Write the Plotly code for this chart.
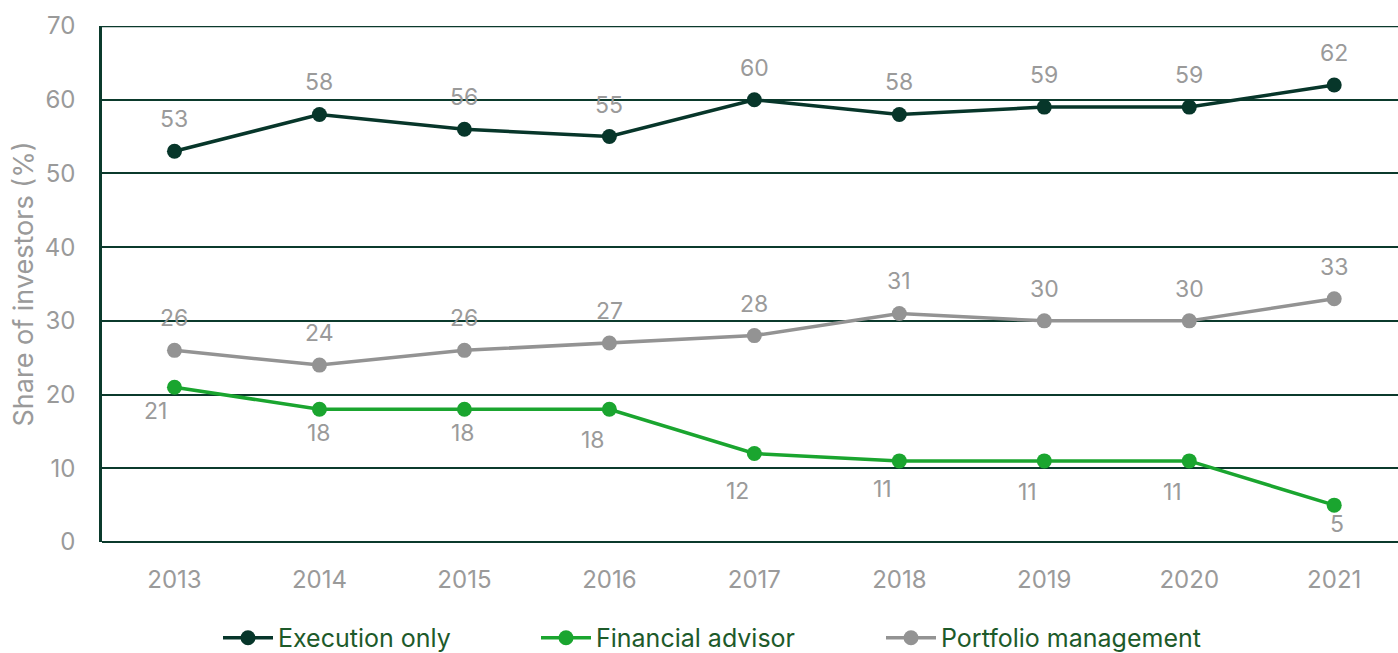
import plotly.graph_objects as go

years = [2013, 2014, 2015, 2016, 2017, 2018, 2019, 2020, 2021]
execution_only = [53, 58, 56, 55, 60, 58, 59, 59, 62]
financial_advisor = [21, 18, 18, 18, 12, 11, 11, 11, 5]
portfolio_management = [26, 24, 26, 27, 28, 31, 30, 30, 33]

# label offsets (pixels) for the financial advisor series, below the points
fin_dx = [-19, 0, -1, -16, -17, -17, -17, -17, 3]
fin_dy = [-24, -24, -24, -31, -37, -28, -31, -31, -19]

C_EXEC = "#07362a"
C_FIN = "#1aa52f"
C_PORT = "#939393"
GRID = "#0b3a2c"
TXT = "#9a9a9a"
FONT = "Inter, Roboto, sans-serif"

fig = go.Figure()

def add(name, vals, color, leg):
    fig.add_trace(go.Scatter(
        x=years, y=vals, name=name, mode="lines+markers",
        line=dict(color=color, width=3.5),
        marker=dict(color=color, size=15),
        cliponaxis=False, legend=leg,
    ))

add("Execution only", execution_only, C_EXEC, "legend")
add("Financial advisor", financial_advisor, C_FIN, "legend2")
add("Portfolio management", portfolio_management, C_PORT, "legend3")

for series in (execution_only, portfolio_management):
    for x, v in zip(years, series):
        fig.add_annotation(x=x, y=v, text=str(v), showarrow=False, yshift=32,
                           font=dict(size=23, color=TXT, family=FONT))
for x, v, dx, dy in zip(years, financial_advisor, fin_dx, fin_dy):
    fig.add_annotation(x=x, y=v, text=str(v), showarrow=False, xshift=dx, yshift=dy,
                       font=dict(size=23, color=TXT, family=FONT))

def leg(xpos):
    return dict(orientation="h", x=xpos, xanchor="left", y=-0.186, yanchor="middle",
                font=dict(size=25, color="#1d5a2a", family=FONT), itemwidth=50,
                bgcolor="rgba(0,0,0,0)")

fig.update_layout(
    width=1398, height=653,
    margin=dict(l=102, r=0, t=26, b=111, autoexpand=False),
    paper_bgcolor="white", plot_bgcolor="white",
    font=dict(family=FONT, color=TXT),
    showlegend=True,
    legend=leg((222 - 102 - 4) / 1296),
    legend2=leg((540 - 102 - 4) / 1296),
    legend3=leg((885 - 102 - 4) / 1296),
    xaxis=dict(range=[2012.5, 2021.44], showgrid=False, automargin=False, dtick=1, tick0=2013,
               showline=False, zeroline=False, ticks="", tickfont=dict(size=24, color=TXT),
               ticklabelstandoff=21),
    yaxis=dict(range=[0, 70], dtick=10, showgrid=True, gridcolor=GRID, gridwidth=1.5,
               zeroline=True, zerolinecolor=GRID, zerolinewidth=2, automargin=False,
               showline=True, linecolor=GRID, linewidth=2.5,
               tickfont=dict(size=24, color=TXT), ticklabelstandoff=19,
               title=dict(text="Share of investors (%)", font=dict(size=27, color=TXT), standoff=4)),
)
fig.add_shape(type="line", xref="paper", yref="y", x0=0, x1=1, y0=70, y1=70,
              line=dict(color=GRID, width=2.5), layer="below")

fig.write_html("out.html", config={"displayModeBar": False},
               post_script="document.body.style.margin='0';")
